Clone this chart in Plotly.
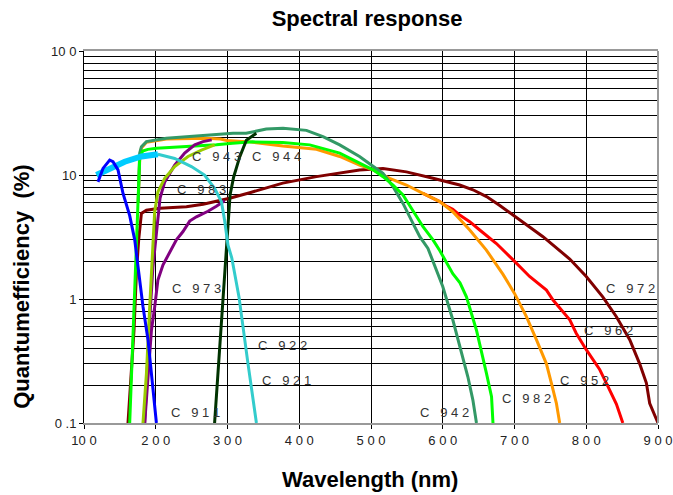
import math
import plotly.graph_objects as go

FONT = "Liberation Sans, Arial, sans-serif"

# ---- data (wavelength nm, quantum efficiency %) ----
blue_wl = [119.5, 126.5, 135.8, 140.4, 147.4, 154.4, 163.7, 170.7, 175.3, 182.2, 189.2, 196.2, 200.9]
blue_qe = [8.8, 11.3, 13.2, 12.8, 11.0, 7.1, 4.7, 3.0, 1.82, 0.87, 0.47, 0.18, 0.1]

sky_wl = [117.3, 140, 156.7, 180, 203]
sky_qe = [10.0, 11.4, 12.8, 14.1, 14.7]

turq_wl = [203, 226.4, 249.7, 268, 282, 291.5, 296, 300.7, 306, 316, 328.6, 340.3]
turq_qe = [14.7, 13.6, 11.7, 10.0, 7.8, 6.1, 4.3, 2.72, 2.14, 1.04, 0.30, 0.1]

darkgreen_wl = [282, 287.6, 293.2, 298.7, 303.6, 308.5, 312.8, 317, 326.3, 340.2]
darkgreen_qe = [0.1, 0.305, 0.93, 2.83, 6.9, 9.6, 11.6, 14.0, 19.1, 21.7]

green_wl = [163.7, 168.3, 173, 175.3, 177.6, 181.8, 189, 201, 237.6, 284.5, 307, 335, 377, 414.6,
            456.4, 484, 502.8, 516.7, 530.7, 544.6, 558.5, 572.5, 586.4, 596, 614, 624, 633, 647,
            661, 668, 670]
green_qe = [0.1, 0.56, 2.72, 7.6, 13.7, 15.6, 16.1, 16.4, 16.8, 17.5, 18.0, 18.5, 18.3, 17.5,
            15.0, 12.4, 11.0, 9.7, 8.3, 6.9, 5.2, 3.83, 3.0, 2.45, 1.6, 1.35, 1.04, 0.56,
            0.25, 0.163, 0.1]

seagreen_wl = [175.5, 177.6, 180, 187, 214.8, 261, 307.7, 326, 354, 377.4, 410, 433, 456.4, 484,
               502.8, 516.7, 530.7, 544.6, 558.5, 568, 579.4, 600, 614, 628, 635, 642, 647]
seagreen_qe = [6.0, 15.0, 16.9, 18.6, 19.8, 20.6, 21.7, 21.7, 23.5, 23.8, 22.9, 20.4, 17.5, 14.1,
               11.7, 10.3, 8.05, 5.9, 4.07, 3.18, 2.56, 1.26, 0.68, 0.34, 0.236, 0.153, 0.1]

orange_wl = [175.5, 177.6, 180, 187, 215, 240, 270, 290, 299, 331, 377, 424, 456.4, 484, 502.8,
             526, 549.3, 572.5, 595.8, 614, 637.6, 660.8, 684, 700, 716.6, 730.5, 744.5, 751.4,
             758.4, 763]
orange_qe = [6.0, 13.0, 16.5, 18.4, 19.5, 19.6, 19.8, 19.5, 19.0, 18.5, 17.1, 16.1, 14.1, 12.0, 11.0,
             9.4, 8.3, 7.1, 6.1, 5.06, 3.6, 2.48, 1.58, 1.11, 0.72, 0.47, 0.30, 0.21,
             0.144, 0.1]

red_wl = [572.5, 595.8, 605, 614, 623.6, 637.6, 651.5, 674.8, 698, 721, 744.5, 753.7, 777, 786,
          800, 818.7, 828, 842, 851]
red_qe = [7.1, 6.1, 5.6, 5.3, 4.75, 4.2, 3.6, 2.8, 2.07, 1.52, 1.18, 0.98, 0.68, 0.53,
          0.39, 0.27, 0.21, 0.142, 0.1]

maroon_wl = [161.3, 166, 169.7, 173, 176.2, 180, 187, 205.5, 242.7, 266, 284.5, 303, 331, 377,
             424, 456.4, 484, 516.7, 549.3, 586.4, 623.6, 642, 661, 679, 698, 739.7, 777, 800,
             823, 842, 860.6, 874.5, 883.8, 888.4, 900]
maroon_qe = [0.1, 0.25, 0.56, 1.61, 3.0, 4.9, 5.2, 5.4, 5.55, 5.8, 6.1, 6.5, 7.2, 8.6,
             9.7, 10.3, 10.97, 11.3, 10.6, 9.4, 8.3, 7.6, 6.7, 5.7, 4.75, 3.18, 2.1, 1.52,
             1.04, 0.72, 0.47, 0.30, 0.21, 0.144, 0.1]

purple_low_wl = [184.6, 189.2, 194, 198.5, 203, 210, 221.8, 228.8, 238, 247.3, 256.7, 272.8, 284.5, 296]
purple_low_qe = [0.1, 0.25, 0.56, 0.86, 1.42, 1.88, 2.48, 3.0, 3.5, 4.25, 4.6, 5.1, 5.6, 6.2]

purple_up_wl = [184.6, 191, 196, 200, 203, 206, 212.5, 226.4, 240.3, 254.3, 265.9, 278]
purple_up_qe = [0.1, 0.6, 1.8, 3.0, 5.0, 6.5, 8.8, 12.0, 15.0, 17.5, 18.6, 19.2]

yellowgreen_wl = [182.2, 187, 191.6, 196.2, 198.5, 203, 212.5, 226.4, 245, 263.6, 282]
yellowgreen_qe = [0.1, 0.25, 0.87, 3.0, 5.06, 7.3, 9.4, 11.7, 14.1, 15.9, 17.5]

# curve labels
label_text = ["C 943", "C 944", "C 983", "C 973", "C 922", "C 921", "C 911",
              "C 942", "C 982", "C 952", "C 962", "C 972"]
label_wl = [247.3, 331, 226.4, 220.4, 340.3, 345.8, 218, 565.5, 680.4, 760.6, 794, 824.3]
label_qe = [14.0, 14.0, 7.57, 1.21, 0.418, 0.219, 0.121, 0.121, 0.158, 0.219, 0.562, 1.21]

x_tickvals = [100, 200, 300, 400, 500, 600, 700, 800, 900]
x_ticktext = ["10 0", "2 0 0", "3 0 0", "4 0 0", "5 0 0", "6 0 0", "7 0 0", "8 0 0", "9 0 0"]
y_tickvals = [0.1, 1, 10, 100]
y_ticktext = ["0 .1", "1", "10", "10 0"]

NB = "\u00a0"

def spaced(s):
    return s.replace(" ", NB)

def label_fmt(s):
    c, num = s.split(" ")
    return "C" + NB * 3 + NB.join(list(num))

series = [
    (maroon_wl, maroon_qe, "#800000", 3),
    (red_wl, red_qe, "#FF0000", 3),
    (orange_wl, orange_qe, "#FF9900", 3),
    (seagreen_wl, seagreen_qe, "#339966", 3),
    (green_wl, green_qe, "#00FF00", 3),
    (purple_low_wl, purple_low_qe, "#800080", 3),
    (purple_up_wl, purple_up_qe, "#800080", 3),
    (yellowgreen_wl, yellowgreen_qe, "#99CC00", 3),
    (darkgreen_wl, darkgreen_qe, "#003300", 3),
    (turq_wl, turq_qe, "#33CCCC", 3),
    (sky_wl, sky_qe, "#00CCFF", 6),
    (blue_wl, blue_qe, "#0000FF", 3),
]

W, H = 673, 495

fig = go.Figure()
for wl, qe, col, w in series:
    fig.add_trace(go.Scatter(x=wl, y=qe, mode="lines",
                             line=dict(color=col, width=w), hoverinfo="skip"))

annotations = []
for t, xw, yq in zip(label_text, label_wl, label_qe):
    annotations.append(dict(x=xw, y=math.log10(yq), xref="x", yref="y",
                            text=label_fmt(t), showarrow=False, xanchor="left",
                            yanchor="middle",
                            font=dict(family=FONT, size=13, color="#333333")))

annotations.append(dict(x=0.499, y=-0.153, xref="paper", yref="paper",
                        text="<b>Wavelength (nm)</b>", showarrow=False,
                        xanchor="center", yanchor="middle",
                        font=dict(family=FONT, size=22, color="black")))
annotations.append(dict(x=-0.108, y=0.366, xref="paper", yref="paper",
                        text="<b>Quantumefficiency" + NB + NB + "(%)</b>", showarrow=False,
                        textangle=-90, xanchor="center", yanchor="middle",
                        font=dict(family=FONT, size=22, color="black")))

fig.update_layout(
    width=W, height=H, autosize=False,
    margin=dict(l=84, r=15, t=51, b=72, pad=0, autoexpand=False),
    plot_bgcolor="white", paper_bgcolor="white",
    showlegend=False,
    font=dict(family=FONT, color="#222222"),
    title=dict(text="<b>Spectral response</b>", x=367 / W, xref="container",
               xanchor="center", y=1 - 18 / H, yref="container", yanchor="middle",
               font=dict(family=FONT, size=22, color="black"), automargin=False),
    annotations=annotations,
    shapes=[dict(type="line", xref="paper", yref="paper", x0=1, x1=1, y0=0, y1=1,
                 line=dict(color="#999999", width=2))],
)

fig.update_xaxes(
    range=[100, 900], tickmode="array", tickvals=x_tickvals,
    ticktext=[spaced(t) for t in x_ticktext],
    showgrid=True, gridcolor="black", gridwidth=1, zeroline=False,
    ticks="outside", ticklen=4, tickcolor="black",
    showline=True, linecolor="#999999", linewidth=2, mirror=True,
    tickfont=dict(family=FONT, size=13, color="#222222"),
    automargin=False, ticklabeloverflow="allow",
)
fig.update_yaxes(
    type="log", range=[-1, 2], tickmode="array", tickvals=y_tickvals,
    ticktext=[spaced(t) for t in y_ticktext],
    showgrid=True, gridcolor="black", gridwidth=1, zeroline=False,
    ticks="outside", ticklen=4, tickcolor="black",
    showline=True, linecolor="black", linewidth=1,
    tickfont=dict(family=FONT, size=13, color="#222222"),
    minor=dict(dtick="D1", showgrid=True, gridcolor="black", gridwidth=1, ticks=""),
    automargin=False,
)

fig.write_html("out.html",
               config={"responsive": False, "displayModeBar": False},
               post_script="document.body.style.margin='0px';document.body.style.overflow='hidden';")
